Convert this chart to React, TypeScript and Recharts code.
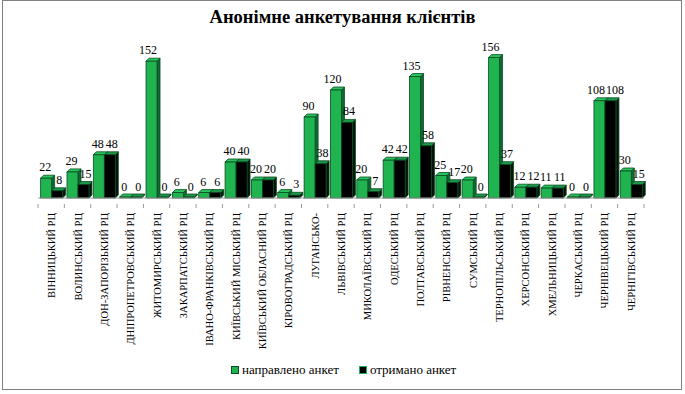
import React from "react";
import { BarChart, Bar, XAxis, YAxis, LabelList } from "recharts";

const CATEGORIES = [
  "ВІННИЦЬКИЙ РЦ",
  "ВОЛИНСЬКИЙ РЦ",
  "ДОН-ЗАПОРІЗЬКИЙ РЦ",
  "ДНІПРОПЕТРОВСЬКИЙ РЦ",
  "ЖИТОМИРСЬКИЙ РЦ",
  "ЗАКАРПАТСЬКИЙ РЦ",
  "ІВАНО-ФРАНКІВСЬКИЙ РЦ",
  "КИЇВСЬКИЙ МІСЬКИЙ РЦ",
  "КИЇВСЬКИЙ ОБЛАСНИЙ РЦ",
  "КІРОВОГРАДСЬКИЙ РЦ",
  "ЛУГАНСЬКО-",
  "ЛЬВІВСЬКИЙ РЦ",
  "МИКОЛАЇВСЬКИЙ РЦ",
  "ОДЕСЬКИЙ РЦ",
  "ПОЛТАВСЬКИЙ РЦ",
  "РІВНЕНСЬКИЙ РЦ",
  "СУМСЬКИЙ РЦ",
  "ТЕРНОПІЛЬСЬКИЙ РЦ",
  "ХЕРСОНСЬКИЙ РЦ",
  "ХМЕЛЬНИЦЬКИЙ РЦ",
  "ЧЕРКАСЬКИЙ РЦ",
  "ЧЕРНІВЕЦЬКИЙ РЦ",
  "ЧЕРНІГІВСЬКИЙ РЦ",
];

const SENT = [22, 29, 48, 0, 152, 6, 6, 40, 20, 6, 90, 120, 20, 42, 135, 25, 20, 156, 12, 11, 0, 108, 30];
const RECEIVED = [8, 15, 48, 0, 0, 0, 6, 40, 20, 3, 38, 84, 7, 42, 58, 17, 0, 37, 12, 11, 0, 108, 15];

const data = CATEGORIES.map((name, i) => ({
  name,
  sent: SENT[i],
  received: RECEIVED[i],
}));

const FONT = "'Liberation Serif', 'Times New Roman', serif";
const DEPTH = 3;
const OUTLINE = "#0b4a22";

function makeBar3D(front: string, side: string, top: string) {
  return (props: any) => {
    const { x, y, width, height } = props;
    const h = Math.max(height, 1);
    const y0 = y + height - h;
    const d = DEPTH;
    return (
      <g>
        <polygon
          points={`${x + width},${y0} ${x + width + d},${y0 - d} ${x + width + d},${y0 + h - d} ${x + width},${y0 + h}`}
          fill={side}
          stroke={OUTLINE}
          strokeWidth={0.8}
        />
        <polygon
          points={`${x},${y0} ${x + d},${y0 - d} ${x + width + d},${y0 - d} ${x + width},${y0}`}
          fill={top}
          stroke={OUTLINE}
          strokeWidth={0.8}
        />
        <rect x={x} y={y0} width={width} height={h} fill={front} stroke={OUTLINE} strokeWidth={0.8} />
      </g>
    );
  };
}

// dir -1 = push label left (green), +1 = push right (black); wider numbers get pushed a bit more
const makeLabel = (dir: number) => (props: any) => {
  const { x, y, width, value } = props;
  const shift = dir * (String(value).length >= 3 ? 4 : 1.5) + 0.5;
  return (
    <text
      x={x + width / 2 + shift}
      y={y - DEPTH - 4}
      textAnchor="middle"
      style={{ fontFamily: FONT }}
      fontSize={12}
      fill="#000"
    >
      {value}
    </text>
  );
};

const CategoryTick = (props: any) => {
  const { x, y, payload, index } = props;
  const band = 606 / CATEGORIES.length;
  return (
    <g>
      <line x1={x - band / 2} y1={y - 2} x2={x - band / 2} y2={y + 2} stroke="#999" />
      {index === CATEGORIES.length - 1 && (
        <line x1={x + band / 2} y1={y - 2} x2={x + band / 2} y2={y + 2} stroke="#999" />
      )}
      <text
        transform={`translate(${x + 4},${y + 7}) rotate(-90)`}
        textAnchor="end"
        style={{ fontFamily: FONT }}
        fontSize={10.5}
        fill="#000"
      >
        {payload.value}
      </text>
    </g>
  );
};

export default function App() {
  return (
    <div
      style={{
        position: "absolute",
        left: 0,
        top: 0,
        width: 685,
        height: 394,
        background: "#fff",
        fontFamily: FONT,
      }}
    >
      <div
        style={{
          position: "absolute",
          left: 2,
          top: 0,
          width: 678,
          height: 388,
          border: "1.5px solid #808080",
        }}
      />
      <div
        style={{
          position: "absolute",
          left: 0,
          top: 7,
          width: 685,
          textAlign: "center",
          fontWeight: "bold",
          fontSize: 18.5,
        }}
      >
        Анонімне анкетування клієнтів
      </div>
      <div style={{ position: "absolute", left: 0, top: 0 }}>
        <BarChart
          width={685}
          height={394}
          data={data}
          margin={{ top: 54, right: 41, bottom: 46, left: 38 }}
          barCategoryGap="10%"
          barGap={0}
        >
          <XAxis
            dataKey="name"
            interval={0}
            height={150}
            tickLine={false}
            axisLine={{ stroke: "#999" }}
            tick={<CategoryTick />}
          />
          <YAxis hide domain={[0, 160]} />
          <Bar
            dataKey="sent"
            isAnimationActive={false}
            shape={makeBar3D("#1fb450", "#0c6b32", "#27c55d")}
          >
            <LabelList dataKey="sent" content={makeLabel(-1)} />
          </Bar>
          <Bar
            dataKey="received"
            isAnimationActive={false}
            shape={makeBar3D("#000000", "#03140a", "#1a9a48")}
          >
            <LabelList dataKey="received" content={makeLabel(1)} />
          </Bar>
        </BarChart>
      </div>
      <div
        style={{
          position: "absolute",
          left: 231,
          top: 362,
          display: "flex",
          alignItems: "center",
          fontSize: 13,
        }}
      >
        <span
          style={{
            display: "inline-block",
            width: 6,
            height: 6,
            background: "#1fb450",
            border: `1px solid ${OUTLINE}`,
            marginRight: 3,
          }}
        />
        <span>направлено анкет</span>
        <span
          style={{
            display: "inline-block",
            width: 6,
            height: 6,
            background: "#000",
            border: "1px solid #1fb450",
            marginLeft: 20,
            marginRight: 3,
          }}
        />
        <span>отримано анкет</span>
      </div>
    </div>
  );
}
